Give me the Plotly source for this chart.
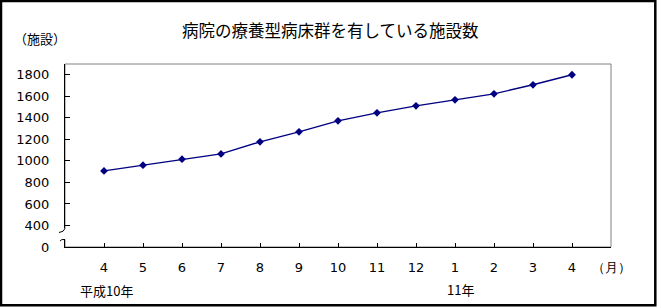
import plotly.graph_objects as go

# ---- data ----
month_labels = ["4", "5", "6", "7", "8", "9", "10", "11", "12", "1", "2", "3", "4"]
facilities = [907, 960, 1016, 1065, 1177, 1270, 1372, 1446, 1511, 1567, 1623, 1707, 1800]
y_tick_values = [200, 400, 600, 800, 1000, 1200, 1400, 1600, 1800]
y_tick_labels = ["0", "400", "600", "800", "1000", "1200", "1400", "1600", "1800"]
unit_month = "（月）"
title_text = "病院の療養型病床群を有している施設数"
y_unit = "（施設）"
year1 = "平成10年"
year2 = "11年"

W, H = 661, 308
L, R, T, B = 65, 611, 64, 247  # plot area pixel bounds


def xp(px):
    return (px - L) / (R - L)


def yp(py):
    return (B - py) / (B - T)


JP = "Noto Sans CJK JP"
NUM = "DejaVu Sans"

x_pos = list(range(1, len(month_labels) + 1))

fig = go.Figure()
fig.add_trace(go.Scatter(
    x=x_pos, y=facilities, mode="lines+markers",
    line=dict(color="#000080", width=1.4),
    marker=dict(symbol="diamond", size=6, color="#000080"),
    showlegend=False, hoverinfo="skip",
))

fig.update_layout(
    width=W, height=H,
    margin=dict(l=L, r=W - R, t=T, b=H - B),
    paper_bgcolor="white", plot_bgcolor="white",
    font=dict(family=NUM, size=13, color="black"),
    xaxis=dict(
        range=[0, len(month_labels) + 1],
        tickmode="array",
        tickvals=x_pos + [len(month_labels) + 1],
        ticktext=month_labels + [unit_month],
        ticks="inside", ticklen=4, tickcolor="black", tickwidth=1,
        showline=True, linecolor="black", linewidth=1.3,
        showgrid=False, zeroline=False,
        ticklabelstandoff=8,
        tickfont=dict(family=NUM, size=13),
    ),
    yaxis=dict(
        range=[200, 1900],
        tickmode="array",
        tickvals=y_tick_values, ticktext=y_tick_labels,
        ticks="inside", ticklen=5, tickcolor="black", tickwidth=1,
        showline=True, linecolor="black", linewidth=1.3,
        showgrid=False, zeroline=False,
        ticklabelstandoff=12,
        tickfont=dict(family=NUM, size=13),
    ),
)

shapes = [
    # gray plot frame
    dict(type="rect", xref="paper", yref="paper", x0=0, x1=1, y0=0, y1=1,
         line=dict(color="#808080", width=1), layer="below"),
    # break in y axis
    dict(type="rect", xref="paper", yref="paper",
         x0=xp(62), x1=xp(68), y0=yp(239.5), y1=yp(228.5),
         line=dict(width=0), fillcolor="white", layer="above"),
    dict(type="path", xref="paper", yref="paper",
         path=f"M {xp(65)},{yp(228.5)} Q {xp(64)},{yp(232)} {xp(59)},{yp(232.5)}",
         line=dict(color="black", width=1), layer="above"),
    dict(type="path", xref="paper", yref="paper",
         path=f"M {xp(60)},{yp(241)} Q {xp(61)},{yp(239)} {xp(65)},{yp(239.5)}",
         line=dict(color="black", width=1), layer="above"),
    # outer chart border
    dict(type="rect", xref="paper", yref="paper",
         x0=xp(1), x1=xp(655.3), y0=yp(305.3), y1=yp(1),
         line=dict(color="black", width=2.5), layer="above"),
]
fig.update_layout(shapes=shapes)

annotations = [
    dict(text=title_text, x=xp(330), y=yp(30), font=dict(family=JP, size=16.5)),
    dict(text=y_unit, x=xp(39.5), y=yp(38), font=dict(family=JP, size=13)),
    dict(text=year1, x=xp(106.7), y=yp(290), font=dict(family=JP, size=13)),
    dict(text=year2, x=xp(460.5), y=yp(289.5), font=dict(family=JP, size=13)),
]
for a in annotations:
    a.update(xref="paper", yref="paper", showarrow=False, xanchor="center", yanchor="middle")
fig.update_layout(annotations=annotations)

fig.write_html("out.html")
